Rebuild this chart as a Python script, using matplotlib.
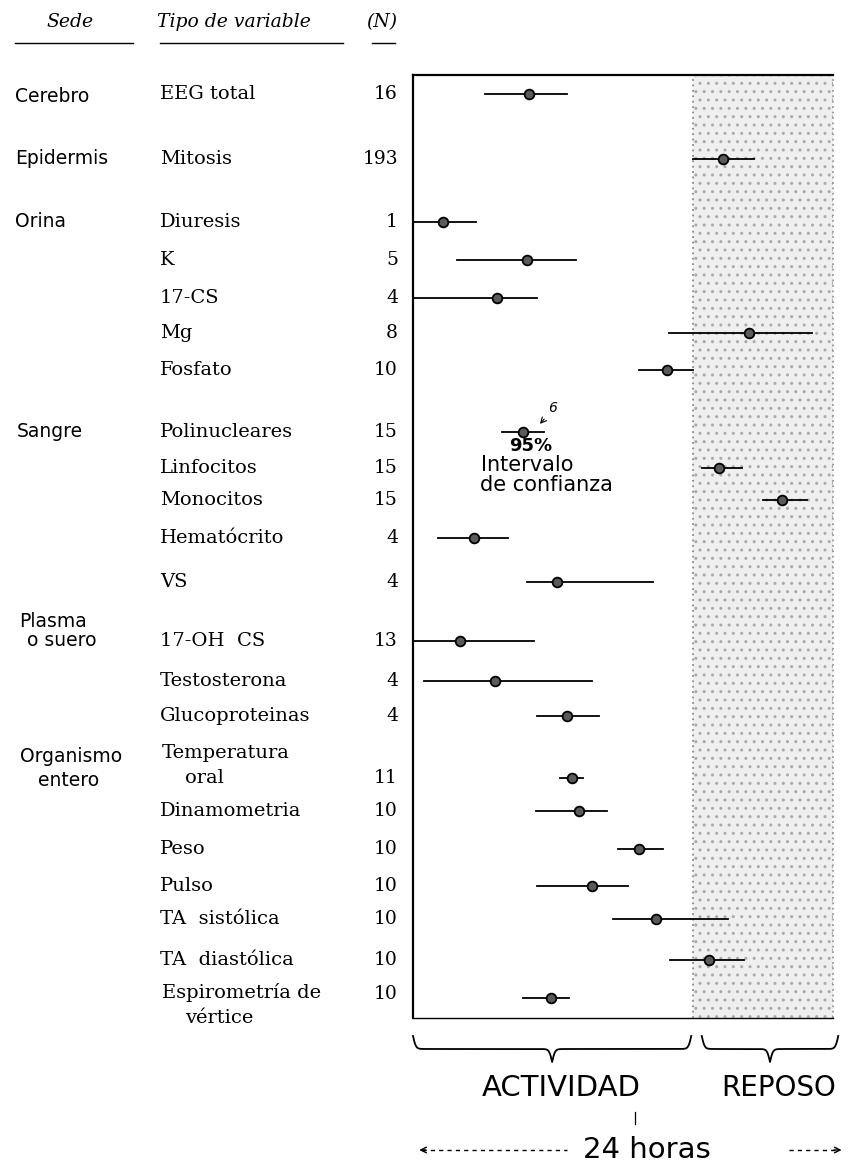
import numpy as np
import matplotlib
matplotlib.use('Agg')
import matplotlib.pyplot as plt
from matplotlib.transforms import blended_transform_factory

# data: acrofase (hora del dia, 0-24) con intervalo de confianza 95%
sedes = ['Cerebro', 'Epidermis', 'Orina', 'Sangre', 'Plasma\no suero', 'Organismo\nentero']
variables = ['EEG total', 'Mitosis', 'Diuresis', 'K', '17-CS', 'Mg', 'Fosfato',
             'Polinucleares', 'Linfocitos', 'Monocitos', 'Hematócrito', 'VS',
             '17-OH  CS', 'Testosterona', 'Glucoproteinas', 'Temperatura\noral',
             'Dinamometria', 'Peso', 'Pulso', 'TA  sistólica', 'TA  diastólica',
             'Espirometría de\nvértice']
n_obs = [16, 193, 1, 5, 4, 8, 10, 15, 15, 15, 4, 4, 13, 4, 4, 11, 10, 10, 10, 10, 10, 10]
acro = [6.6, 17.7, 1.7, 6.5, 4.8, 19.2, 14.5, 6.3, 17.5, 21.1, 3.5, 8.2,
        2.7, 4.7, 8.8, 9.1, 9.5, 12.9, 10.2, 13.9, 16.9, 7.9]
ci_lo = [4.1, 16.0, 0.0, 2.5, 0.0, 14.6, 12.9, 5.1, 16.5, 20.0, 1.4, 6.5,
         0.0, 0.6, 7.1, 8.4, 7.0, 11.7, 7.1, 11.4, 14.7, 6.3]
ci_hi = [8.8, 19.5, 3.6, 9.3, 7.1, 22.8, 16.0, 7.5, 18.8, 22.5, 5.4, 13.7,
         6.9, 10.2, 10.6, 9.7, 11.1, 14.3, 12.3, 18.0, 18.9, 8.9]
activity_end = 16   # ACTIVIDAD 0-16 h, REPOSO 16-24 h
day_len = 24

# layout (pixel rows, top = 0)
W, H = 848, 1167
row_y = [94, 159, 222, 260, 298, 333, 370, 432, 468, 500, 538, 582,
         641, 681, 716, 778, 811, 849, 886, 919, 960, 998]
sede_pos = [(15, [97]), (15, [159]), (15, [222]), (17, [432]),
            ([19, 27], [622, 641]), ([20, 38], [757, 781])]
two_line = {15: (-25, 0), 21: (-5, 20)}

fig = plt.figure(figsize=(W / 100, H / 100), dpi=100)
fig.patch.set_facecolor('white')
ax = fig.add_axes([413 / W, 1 - 1018 / H, 420 / W, 943 / H])
ax.set_xlim(0, day_len)
ax.set_ylim(1018, 75)
ax.set_xticks([])
ax.set_yticks([])
for s in ['left', 'top']:
    ax.spines[s].set_linewidth(1.6)
ax.spines['bottom'].set_linewidth(1.0)
ax.spines['right'].set_visible(False)

# zona de reposo punteada
ax.axvspan(activity_end, day_len, facecolor='#efefef', hatch='..',
           edgecolor='#aaaaaa', lw=0, zorder=0)
ax.axvline(activity_end, color='#8a8a8a', ls=(0, (1, 2)), lw=1.3, zorder=1)
ax.axvline(day_len, color='#9a9a9a', ls=(0, (1, 2)), lw=1.3, clip_on=False, zorder=1)

for i in range(len(variables)):
    ax.plot([ci_lo[i], ci_hi[i]], [row_y[i], row_y[i]], color='black', lw=1.3, zorder=3)
    ax.plot(acro[i], row_y[i], 'o', ms=7, mfc='#5a5a5a', mec='black', mew=1.3, zorder=4)

# leyenda del intervalo (fila Polinucleares)
ax.text(5.5, 446, '95%', fontsize=13, fontweight='bold', family='DejaVu Sans', va='center')
ax.text(3.9, 465, 'Intervalo', fontsize=15, family='DejaVu Sans', va='center')
ax.text(3.85, 485, 'de confianza', fontsize=15, family='DejaVu Sans', va='center')
ax.text(7.7, 408, '6', fontsize=10, style='italic', va='center')
ax.annotate('', xy=(7.15, 426), xytext=(7.6, 417),
            arrowprops=dict(arrowstyle='->', lw=0.8, color='black'))

# columnas de la izquierda
tr = blended_transform_factory(fig.transFigure, ax.transData)
fig.text(70 / W, 1 - 22 / H, 'Sede', ha='center', va='center', fontsize=13.5,
         style='italic', family='DejaVu Serif')
fig.text(157 / W, 1 - 22 / H, 'Tipo de variable', ha='left', va='center', fontsize=13.5,
         style='italic', family='DejaVu Serif')
fig.text(397 / W, 1 - 22 / H, '(N)', ha='right', va='center', fontsize=13.5,
         style='italic', family='DejaVu Serif')
for x0, x1 in [(15, 133), (160, 343), (372, 395)]:
    fig.add_artist(plt.Line2D([x0 / W, x1 / W], [1 - 43 / H, 1 - 43 / H],
                              color='black', lw=1.0))

for name, (xs, ys) in zip(sedes, sede_pos):
    lines = name.split('\n')
    if not isinstance(xs, list):
        xs = [xs]
    for ln, x, y in zip(lines, xs, ys):
        ax.text(x / W, y, ln, transform=tr, fontsize=13.5, family='DejaVu Sans',
                ha='left', va='center', clip_on=False)

for i, name in enumerate(variables):
    lines = name.split('\n')
    if len(lines) == 1:
        ax.text(160 / W, row_y[i], name, transform=tr, fontsize=14,
                family='DejaVu Serif', ha='left', va='center', clip_on=False)
    else:
        off = two_line[i]
        ax.text(162 / W, row_y[i] + off[0], lines[0], transform=tr, fontsize=14,
                family='DejaVu Serif', ha='left', va='center', clip_on=False)
        ax.text(185 / W, row_y[i] + off[1], lines[1], transform=tr, fontsize=14,
                family='DejaVu Serif', ha='left', va='center', clip_on=False)
    ny = row_y[i] + (two_line[i][0] + 1 if i == 21 else 0)
    ax.text(398 / W, ny, str(n_obs[i]), transform=tr, fontsize=13.5,
            family='DejaVu Serif', ha='right', va='center', clip_on=False)


# llaves inferiores
def brace(x0, x1, ytop, h):
    span = x1 - x0
    xh = np.linspace(0, span / 2, 200)
    beta = 12.0
    yh = 1 / (1 + np.exp(-beta * (xh - xh[0]))) + 1 / (1 + np.exp(-beta * (xh - xh[-1])))
    yy = np.concatenate((yh, yh[-2::-1]))
    xx = np.linspace(x0, x1, len(yy))
    ax.plot(xx, ytop + (yy - 0.5) * h, color='black', lw=1.3, clip_on=False)


brace(0.0, 15.9, 1036, 26)
brace(16.5, 24.3, 1036, 26)
ax.text(8.45, 1088, 'ACTIVIDAD', fontsize=21, family='DejaVu Sans', ha='center',
        va='center', clip_on=False)
ax.text(20.9, 1088, 'REPOSO', fontsize=20, family='DejaVu Sans', ha='center',
        va='center', clip_on=False)
ax.text(13.35, 1150, '24 horas', fontsize=21, family='DejaVu Sans', ha='center',
        va='center', clip_on=False)
ax.plot([12.7, 12.7], [1112, 1124], color='black', lw=0.9, clip_on=False)
ax.plot([0.5, 8.8], [1150, 1150], color='black', lw=1.0, ls=(0, (3, 3)), clip_on=False)
ax.plot([21.5, 24.3], [1150, 1150], color='black', lw=1.0, ls=(0, (3, 3)), clip_on=False)
ax.annotate('', xy=(0.2, 1150), xytext=(0.9, 1150), annotation_clip=False,
            arrowprops=dict(arrowstyle='->', lw=1.0, color='black'))
ax.annotate('', xy=(24.65, 1150), xytext=(23.9, 1150), annotation_clip=False,
            arrowprops=dict(arrowstyle='->', lw=1.0, color='black'))

fig.savefig('out.png', dpi=100)
